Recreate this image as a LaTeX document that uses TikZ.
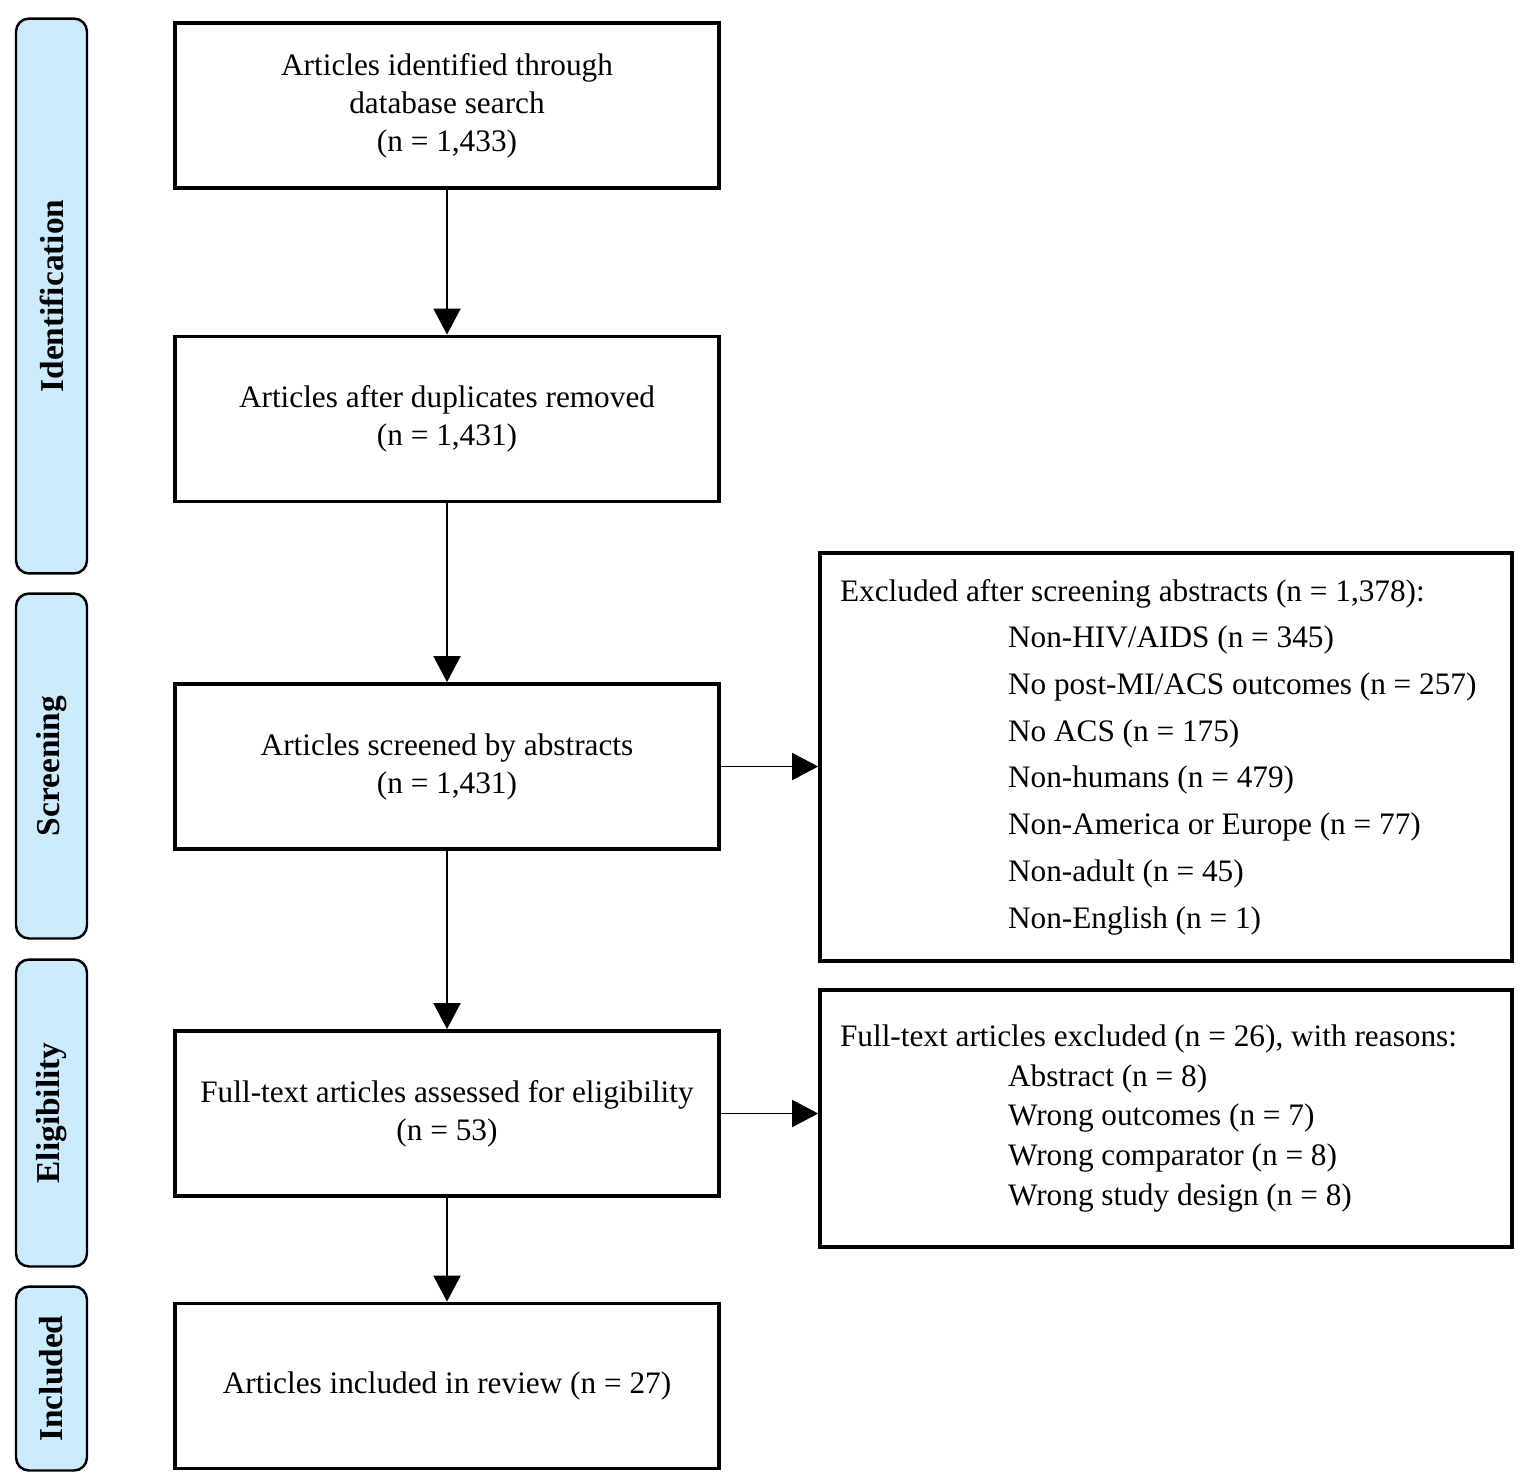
\documentclass[tikz,border=0pt]{standalone}
\usepackage{fontspec}
\setmainfont{Liberation Serif}
\usetikzlibrary{arrows.meta}
\definecolor{stageblue}{HTML}{CCEBFF}
\tikzset{
stage/.style={
	  draw, rounded corners=0.26cm, fill=stageblue, line width=1.4pt,
	    rotate=90, minimum height=1.42cm, font=\fontsize{19}{23}\selectfont\bfseries},
stepbox/.style={
	  draw, line width=2.2pt, minimum width=10.88cm, minimum height=3.3cm,
	    align=center, font=\fontsize{17.8}{0.76cm}\selectfont},
exclbox/.style={
	  draw, line width=2.2pt, text width=13.04cm, inner xsep=0.4cm, align=left,
	    execute at begin node={\spaceskip=0pt\xspaceskip=0pt}},
flow/.style={-{Triangle[length=0.52cm,width=0.54cm]}, line width=1.1pt}
}
\newcommand{\reason}[1]{\hspace*{3.36cm}#1}

\begin{document}
\begin{tikzpicture}[x=0.02cm, y=-0.02cm]
	\useasboundingbox (0,0) rectangle (1530,1481);
	% stages
	\node[stage, minimum width=11.1cm] (sident) at (51.5,296) {Identification};
	\node[stage, minimum width=6.9cm] (sscreen) at (51.5,766) {Screening};
	\node[stage, minimum width=6.14cm] (selig) at (51.5,1113) {Eligibility};
	\node[stage, minimum width=3.68cm] (sincl) at (51.5,1378.5) {Included};
	% main flow
	\node[stepbox] (found) at (447,105.5) {Articles identified through\\database search\\(n = 1,433)};
	\node[stepbox] (dedup) at (447,419) {Articles after duplicates removed\\(n = 1,431)};
	\node[stepbox] (screened) at (447,766.5) {Articles screened by abstracts\\(n = 1,431)};
	\node[stepbox] (assessed) at (447,1113.5) {Full-text articles assessed for eligibility\\(n = 53)};
	\node[stepbox] (included) at (447,1386) {Articles included in review (n = 27)};
	% exclusions
	\node[exclbox, minimum height=8.16cm, font=\fontsize{17.8}{0.934cm}\selectfont] (exabs) at (1166,757) {Excluded after screening abstracts (n = 1,378):\\
		\reason{Non-HIV/AIDS (n = 345)}\\
		\reason{No post-MI/ACS outcomes (n = 257)}\\
		\reason{No ACS (n = 175)}\\
		\reason{Non-humans (n = 479)}\\
		\reason{Non-America or Europe (n = 77)}\\
		\reason{Non-adult (n = 45)}\\
		\reason{Non-English (n = 1)}};
	\node[exclbox, minimum height=5.14cm, font=\fontsize{17.8}{0.8cm}\selectfont] (exfull) at (1166,1118.5) {Full-text articles excluded (n = 26), with reasons:\\
		\reason{Abstract (n = 8)}\\
		\reason{Wrong outcomes (n = 7)}\\
		\reason{Wrong comparator (n = 8)}\\
		\reason{Wrong study design (n = 8)}};
	\draw[flow] (found) -- (dedup);
	\draw[flow] (dedup) -- (screened);
	\draw[flow] (screened) -- (assessed);
	\draw[flow] (assessed) -- (included);
	\draw[flow] (screened.east) -- (screened.east -| exabs.west);
	\draw[flow] (assessed.east) -- (assessed.east -| exfull.west);
\end{tikzpicture}
\end{document}
